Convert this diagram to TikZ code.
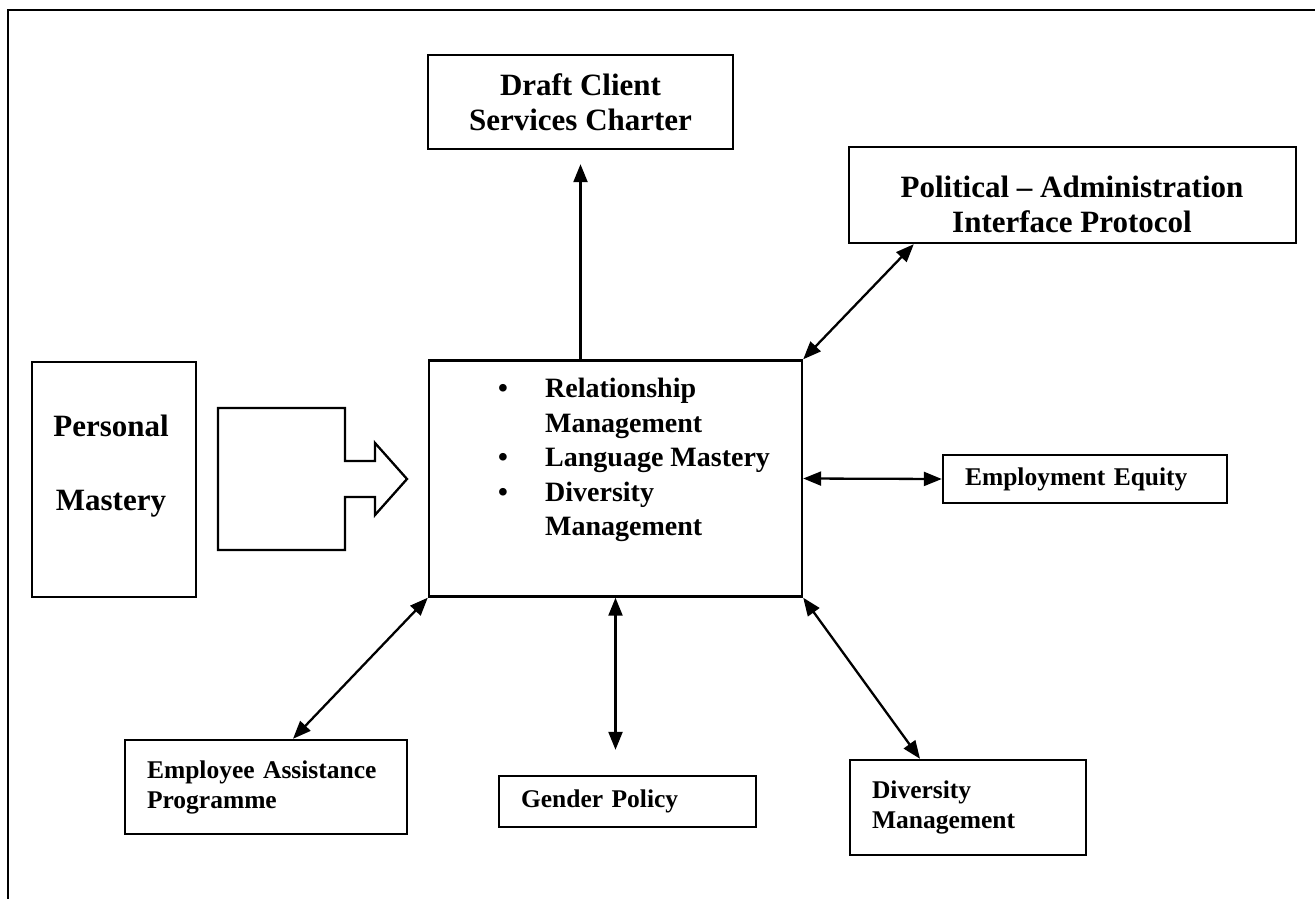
\documentclass[tikz,border=0pt]{standalone}
\usepackage{fontspec}
\setmainfont{Liberation Serif}
\usetikzlibrary{arrows, arrows.meta, positioning}

\begin{document}
\begin{tikzpicture}[x=1pt,y=-1pt,
    bigbox/.style={draw,line width=2.4pt,align=center,inner sep=0pt,font=\fontsize{31}{35}\selectfont\bfseries},
    bigtext/.style={align=center,font=\fontsize{31}{35}\selectfont\bfseries},
    smallbox/.style={draw,line width=2.4pt,align=left,inner xsep=22pt,inner ysep=0pt,font=\fontsize{25.5}{30}\selectfont\bfseries},
    link/.style={line width=2.3pt,{Triangle[length=18pt,width=14pt]}-{Triangle[length=18pt,width=14pt]}},
    uplink/.style={line width=2.3pt,-{Triangle[length=18pt,width=14pt]}}]
    \useasboundingbox (0,0) rectangle (1315,899);
    % outer frame
    \draw[line width=2.5pt] (8,899) -- (8,10) -- (1315,10);

    \node[bigbox,minimum width=305pt,minimum height=94pt] (draft) at (580.5,102) {Draft Client\\Services Charter};
    \node[bigbox,minimum width=447pt,minimum height=96pt] (political) at (1072.5,195) {};
    \node[bigtext] (politicaltext) at (1072,204) {Political -- Administration\\Interface Protocol};
    \node[bigbox,minimum width=164pt,minimum height=235pt] (personal) at (114,479.5) {};
    \node[bigtext] (personaltext) at (111,466) {Personal\\[39pt]Mastery};

    \node[draw,line width=2.4pt,minimum width=373pt,minimum height=236pt] (core) at (615.5,478.5) {};
    \node[anchor=west,inner sep=0pt,font=\fontsize{28}{34.5}\selectfont\bfseries] (corelist) at (498,460) {%
      \begin{tabular}{@{}p{47pt}@{}l@{}}
        \textbullet & Relationship\\
                    & Management\\
        \textbullet & Language Mastery\\
        \textbullet & Diversity\\
                    & Management
      \end{tabular}};

    \node[smallbox,text width=240pt,minimum height=48pt] (equity) at (1085,479) {Employment Equity};
    \node[smallbox,text width=238pt,minimum height=94pt] (assist) at (266,787) {Employee Assistance\\Programme};
    \node[smallbox,text width=213pt,minimum height=51pt] (gender) at (627.5,801.5) {Gender Policy};
    \node[smallbox,text width=192pt,minimum height=95pt] (diversity) at (968,807.5) {Diversity\\Management};

    % block arrow
    \draw[line width=2.3pt,line join=miter] (218,408) -- (345,408) -- (345,461) -- (375,461) -- (375,443)
      -- (407,479) -- (375,515) -- (375,497) -- (345,497) -- (345,550) -- (218,550) -- cycle;

    \draw[uplink] (draft.south |- core.north) -- ([yshift=-14pt]draft.south);
    \draw[link] (core.north east) -- ([xshift=66pt]political.south west);
    \draw[link] (core.east) -- (equity.west);
    \draw[link] (core.south west) -- ([xshift=27pt]assist.north);
    \draw[link] (core.south) -- ([yshift=25pt]core.south |- gender.north);
    \draw[link] (core.south east) -- ([xshift=-48pt]diversity.north);
\end{tikzpicture}
\end{document}
